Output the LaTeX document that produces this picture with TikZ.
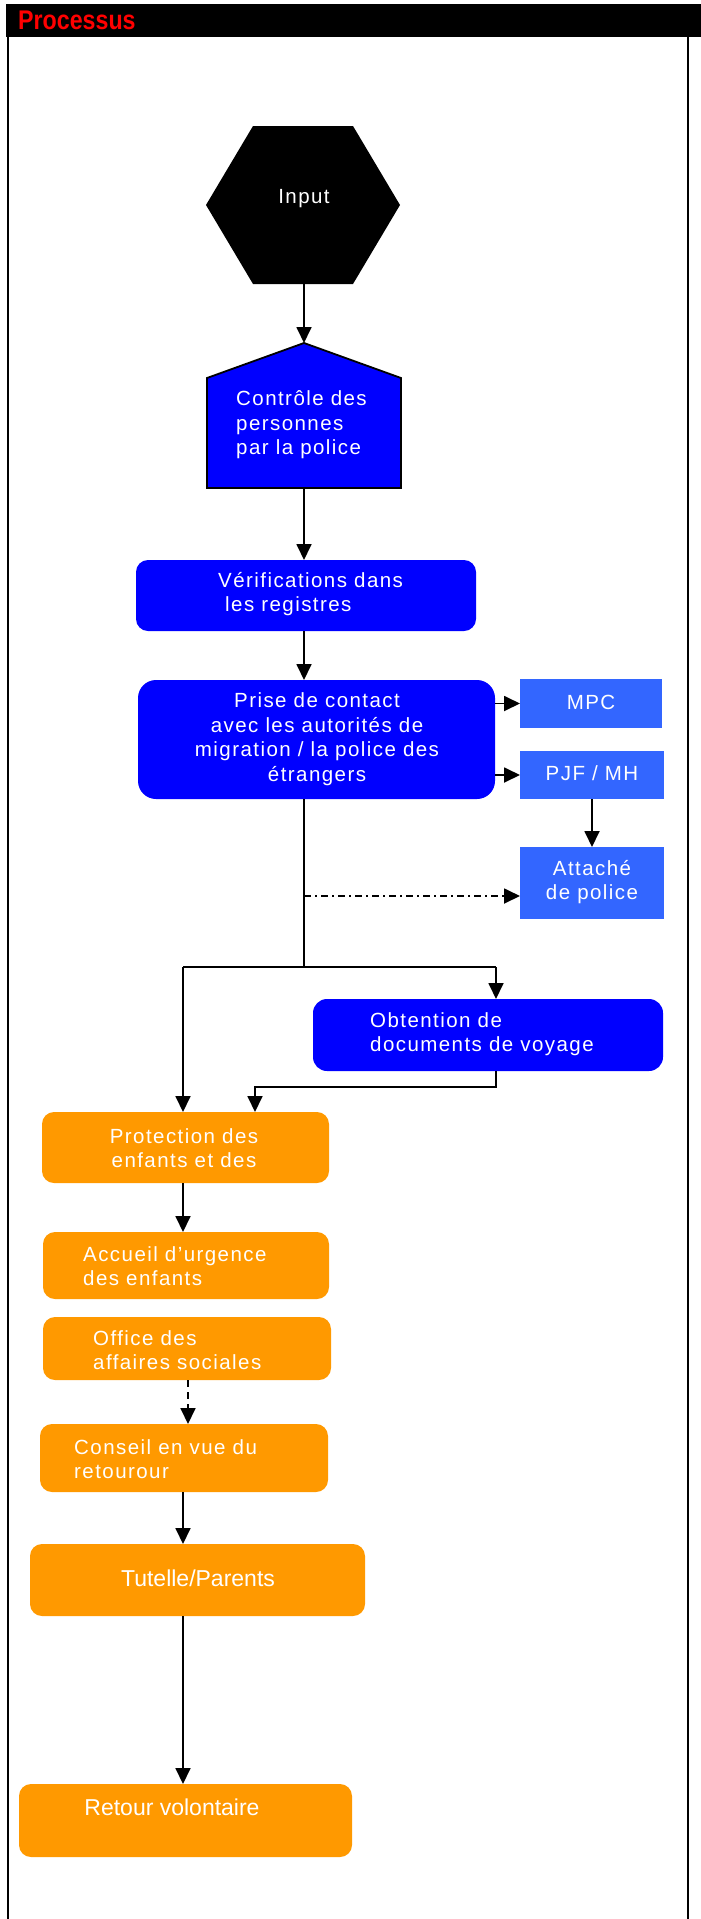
\documentclass[tikz,border=0pt]{standalone}
\usepackage{fontspec}
\setmainfont{Liberation Sans}
\newfontfamily\boxfont[LetterSpace=7]{Liberation Sans}
\newfontfamily\headfont[FakeStretch=0.86]{Liberation Sans Bold}
\usetikzlibrary{arrows.meta}
\definecolor{mainblue}{RGB}{0,0,255}
\definecolor{lightblue}{RGB}{51,102,255}
\definecolor{procorange}{RGB}{255,153,0}
\tikzset{
  txt/.style={text=white, inner sep=0pt, font=\boxfont\fontsize{20.5}{24.5}\selectfont},
  plaintxt/.style={text=white, inner sep=0pt, font=\fontsize{23}{27}\selectfont},
  shapebox/.style={inner sep=0pt, outer sep=0pt},
  bluebox/.style={shapebox, fill=mainblue},
  lbluebox/.style={shapebox, fill=lightblue},
  orangebox/.style={shapebox, fill=procorange, rounded corners=12pt},
  arr/.style={line width=1.8pt, -{Triangle[length=16pt,width=15pt]}},
  conn/.style={line width=1.8pt},
}
\begin{document}
\begin{tikzpicture}[x=1pt,y=-1pt]
\useasboundingbox (0,0) rectangle (701,1919);
% frame
\fill[black] (6,4) rectangle (701,37);
\node[anchor=base west, inner sep=0pt, text=red, font=\headfont\fontsize{27}{30}\selectfont] (title) at (18,29.5) {Processus};
\draw[line width=2pt] (8,37) -- (8,1919);
\draw[line width=2pt] (688,37) -- (688,1919);

% Input hexagon
\node[shapebox, minimum width=194pt, minimum height=158pt] (input) at (303,205) {};
\fill[black] (input.west) -- ([xshift=-50pt]input.north) -- ([xshift=50pt]input.north) -- (input.east) -- ([xshift=50pt]input.south) -- ([xshift=-50pt]input.south) -- cycle;
\node[txt] (inputtxt) at (304,199) {Input};

% Controle pentagon
\node[shapebox, minimum width=194pt, minimum height=145pt] (ctrl) at (304,415.5) {};
\filldraw[fill=mainblue, draw=black, line width=1.8pt] (ctrl.north) -- ([yshift=-35pt]ctrl.north east) -- (ctrl.south east) -- (ctrl.south west) -- ([yshift=-35pt]ctrl.north west) -- cycle;
\node[txt, align=left, anchor=west] (ctrltxt) at (236,425) {Contrôle des\\personnes\\par la police};

% blue boxes
\node[bluebox, rounded corners=12pt, minimum width=340pt, minimum height=71pt] (verif) at (306,595.5) {};
\node[txt, align=left, anchor=west] (veriftxt) at (218,594) {Vérifications dans\\\hspace*{7pt}les registres};

\node[bluebox, rounded corners=18pt, minimum width=357pt, minimum height=119pt] (prise) at (316.5,739.5) {};
\node[txt, align=center] (prisetxt) at (317,739) {Prise de contact\\avec les autorités de\\migration / la police des\\étrangers};

\node[lbluebox, minimum width=142pt, minimum height=49pt] (mpc) at (591,703.5) {};
\node[txt] (mpctxt) at (591,702) {MPC};
\node[lbluebox, minimum width=144pt, minimum height=48pt] (pjf) at (592,775) {};
\node[txt] (pjftxt) at (592,773) {PJF / MH};
\node[lbluebox, minimum width=144pt, minimum height=72pt] (attache) at (592,883) {};
\node[txt, align=center] (attachetxt) at (592,882) {Attaché\\de police};

\node[bluebox, rounded corners=14pt, minimum width=350pt, minimum height=72pt] (obt) at (488,1035) {};
\node[txt, align=left, anchor=west] (obttxt) at (370,1034) {Obtention de\\documents de voyage};

% orange boxes
\node[orangebox, minimum width=287pt, minimum height=71pt] (prot) at (185.5,1147.5) {};
\node[txt, align=center] (prottxt) at (184,1148) {Protection des\\enfants et des};
\node[orangebox, minimum width=286pt, minimum height=67pt] (acc) at (186,1265.5) {};
\node[txt, align=left, anchor=west] (acctxt) at (83,1266) {Accueil d’urgence\\des enfants};
\node[orangebox, minimum width=288pt, minimum height=63pt] (off) at (187,1348.5) {};
\node[txt, align=left, anchor=west] (offtxt) at (93,1350) {Office des\\affaires sociales};
\node[orangebox, minimum width=288pt, minimum height=68pt] (cons) at (184,1458) {};
\node[txt, align=left, anchor=west] (constxt) at (74,1459) {Conseil en vue du\\retourour};
\node[orangebox, minimum width=335pt, minimum height=72pt] (tut) at (197.5,1580) {};
\node[plaintxt] (tuttxt) at (198,1578) {Tutelle/Parents};
\node[orangebox, minimum width=333pt, minimum height=73pt] (ret) at (185.5,1820.5) {};
\node[plaintxt] (rettxt) at (172,1807) {Retour volontaire};

% helper coordinates
\coordinate (trunk) at (304,0);
\coordinate (split) at (304,967);
\coordinate (bl) at (183,967);
\coordinate (br) at (496,967);
\coordinate (dd) at (304,896);
\coordinate (ob) at (496,1087);
\coordinate (oc) at (255,1087);
\coordinate (dx) at (188,0);

% connectors
\draw[arr] (input.south -| trunk) -- (ctrl.north -| trunk);
\draw[arr] (ctrl.south -| trunk) -- (verif.north -| trunk);
\draw[arr] (verif.south -| trunk) -- (prise.north -| trunk);
\draw[arr] (prise.east |- mpc.west) -- (mpc.west);
\draw[arr] (prise.east |- pjf.west) -- (pjf.west);
\draw[arr] (pjf.south) -- (attache.north);
\draw[conn] (prise.south -| trunk) -- (split);
\draw[arr, dash pattern=on 7pt off 4pt on 2pt off 4pt] (dd) -- (dd -| attache.west);
\draw[conn] (bl) -- (br);
\draw[arr] (br) -- (br |- obt.north);
\draw[arr] (bl) -- (bl |- prot.north);
\draw[arr] (ob |- obt.south) -- (ob) -- (oc) -- (oc |- prot.north);
\draw[arr] (bl |- prot.south) -- (bl |- acc.north);
\draw[arr, dash pattern=on 7pt off 5pt] (dx |- off.south) -- (dx |- cons.north);
\draw[arr] (bl |- cons.south) -- (bl |- tut.north);
\draw[arr] (bl |- tut.south) -- (bl |- ret.north);
\end{tikzpicture}
\end{document}
